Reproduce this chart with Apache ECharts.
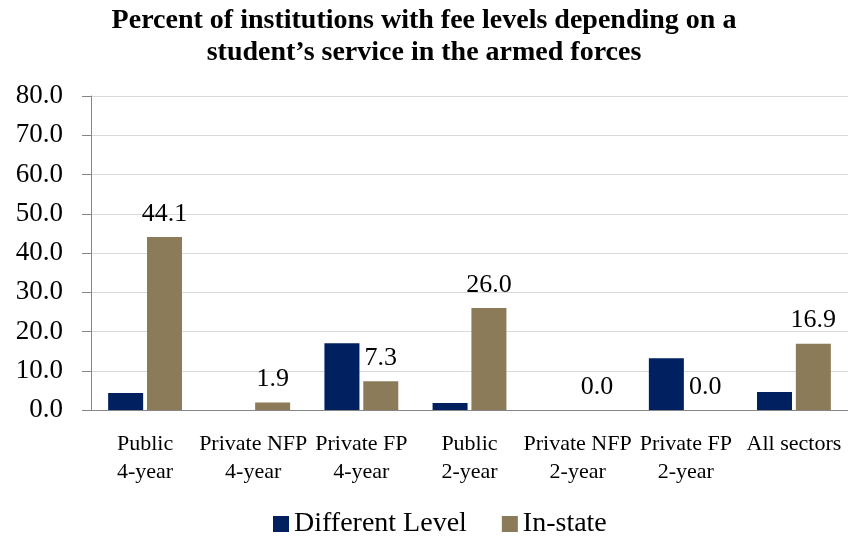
<!DOCTYPE html>
<html>
<head>
<meta charset="utf-8">
<script src="https://cdn.jsdelivr.net/npm/echarts@6/dist/echarts.min.js"></script>
<style>
  html, body { margin: 0; padding: 0; background: #fff; }
  #chart { width: 848px; height: 537px; }
</style>
</head>
<body>
<div id="chart"></div>
<script>
const categories = ['Public\n4-year', 'Private NFP\n4-year', 'Private FP\n4-year', 'Public\n2-year',
  'Private NFP\n2-year', 'Private FP\n2-year', 'All sectors'];
const differentLevel = [4.3, 0.0, 17.0, 1.8, 0.0, 13.2, 4.6];
const inState = [44.1, 1.9, 7.3, 26.0, 0.0, 0.0, 16.9];
const yTicks = [0, 10, 20, 30, 40, 50, 60, 70, 80];

const serif = 'Liberation Serif';
const myChart = echarts.init(document.getElementById('chart'));

const option = {
  backgroundColor: '#ffffff',
  animation: false,
  title: {
    text: 'Percent of institutions with fee levels depending on a\nstudent\u2019s service in the armed forces',
    left: 'center',
    top: 5,
    padding: 0,
    textStyle: {
      fontFamily: serif,
      fontSize: 28,
      fontWeight: 'bold',
      lineHeight: 32,
      color: '#000'
    }
  },
  legend: {
    data: ['Different Level', 'In-state'],
    top: 505,
    left: 268,
    itemWidth: 16,
    itemHeight: 16,
    itemGap: 35,
    icon: 'rect',
    textStyle: { fontFamily: serif, fontSize: 28, color: '#000' }
  },
  grid: {
    left: 91,
    top: 96,
    width: 763,
    bottom: 127,
    containLabel: false
  },
  xAxis: {
    type: 'category',
    data: categories,
    axisLine: { lineStyle: { color: '#868686' } },
    axisTick: { length: 8, lineStyle: { color: '#868686' } },
    axisLabel: {
      interval: 0,
      margin: 20,
      fontFamily: serif,
      fontSize: 22,
      lineHeight: 28,
      color: '#000'
    }
  },
  yAxis: {
    type: 'value',
    min: yTicks[0],
    max: yTicks[yTicks.length - 1],
    interval: 10,
    axisLine: { show: true, lineStyle: { color: '#868686' } },
    axisTick: { show: true, length: 9, lineStyle: { color: '#868686' } },
    splitLine: { lineStyle: { color: '#d9d9d9' } },
    axisLabel: {
      margin: 28,
      fontFamily: serif,
      fontSize: 27,
      color: '#000',
      formatter: v => v.toFixed(1)
    }
  },
  series: [
    {
      name: 'Different Level',
      type: 'bar',
      data: differentLevel,
      barWidth: 35,
      barGap: '11%',
      itemStyle: { color: '#00205f' }
    },
    {
      name: 'In-state',
      type: 'bar',
      data: inState,
      barWidth: 35,
      itemStyle: { color: '#8b7b58' },
      label: {
        show: true,
        position: 'top',
        distance: 10,
        fontFamily: serif,
        fontSize: 26,
        color: '#000',
        formatter: p => p.value.toFixed(1)
      }
    }
  ]
};
myChart.setOption(option);
</script>
</body>
</html>
